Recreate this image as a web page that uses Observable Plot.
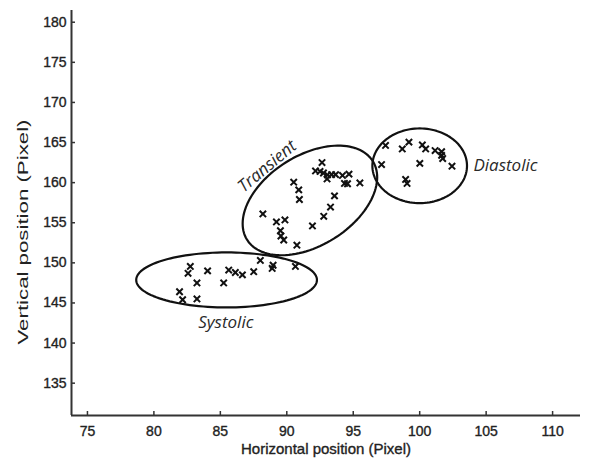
<!DOCTYPE html>
<html>
<head>
<meta charset="utf-8">
<script src="https://cdn.jsdelivr.net/npm/d3@7"></script>
<script src="https://cdn.jsdelivr.net/npm/@observablehq/plot@0.6"></script>
<style>
  html, body { margin: 0; padding: 0; background: #fff; }
  #chart { width: 590px; height: 462px; }
  .heavy text { stroke: #222; stroke-width: 0.35px; }
</style>
</head>
<body>
<div id="chart"></div>
<script>
// ---- data ----
const systolicX = [81.93, 82.16, 82.74, 82.57, 83.24, 83.24, 84.04, 85.25, 85.63, 86.13, 86.66, 87.51, 88.01, 88.97, 88.90, 90.65];
const systolicY = [146.4, 145.4, 149.55, 148.7, 147.5, 145.5, 149.0, 147.5, 149.1, 148.8, 148.5, 148.9, 150.3, 149.7, 149.3, 149.55];

const transientX = [88.20, 89.22, 89.86, 89.52, 89.56, 89.77, 90.76, 90.52, 90.90, 90.95, 91.93, 92.78, 93.29, 93.59, 92.65, 92.16, 92.50, 92.76, 93.06, 93.03, 93.37, 93.67, 94.19, 94.68, 94.34, 94.57, 95.50];
const transientY = [156.1, 155.1, 155.35, 154.0, 153.35, 152.85, 152.2, 160.06, 159.1, 157.9, 154.6, 155.8, 156.95, 158.35, 162.5, 161.46, 161.4, 161.2, 160.96, 160.46, 161.0, 161.0, 160.9, 161.06, 159.9, 159.86, 159.96];

const diastolicX = [97.43, 98.69, 99.19, 100.20, 100.45, 101.16, 101.65, 101.65, 101.73, 102.43, 97.13, 100.01, 98.94, 99.05];
const diastolicY = [164.64, 164.2, 165.05, 164.7, 164.2, 164.0, 163.85, 163.4, 163.0, 162.05, 162.25, 162.4, 160.4, 159.9];

const xTicks = [75, 80, 85, 90, 95, 100, 105, 110];
const yTicks = [135, 140, 145, 150, 155, 160, 165, 170, 175, 180];

// phase annotations: centre (data units), semi-axes (in horizontal-axis units), tilt (deg)
const phaseNames = ["Systolic", "Transient", "Diastolic"];
const ellipseCX = [85.47, 91.74, 100.0];
const ellipseCY = [147.87, 157.78, 162.1];
const ellipseA = [6.8, 5.58, 3.56];
const ellipseB = [2.07, 3.39, 2.81];
const ellipseTilt = [0, 32, 0];

const labelX = [85.41, 88.52, 106.45];
const labelY = [142.6, 162.05, 162.15];
const labelRotate = [0, -40, 0];

// ---- layout ----
const W = 590, H = 462;
const mL = 71, mR = 10, mT = 10, mB = 47;
const xDomain = [73.8, 112.1];
const yDomain = [130.97, 181.46];

const points = [
  ...systolicX.map((x, i) => ({x, y: systolicY[i]})),
  ...transientX.map((x, i) => ({x, y: transientY[i]})),
  ...diastolicX.map((x, i) => ({x, y: diastolicY[i]}))
];

// ellipse outlines expressed in data units, so they go through the plot scales
const kx = (W - mL - mR) / (xDomain[1] - xDomain[0]);
const ky = (H - mT - mB) / (yDomain[1] - yDomain[0]);
const ellipsePts = [];
phaseNames.forEach((name, k) => {
  const phi = ellipseTilt[k] * Math.PI / 180;
  const n = 120;
  for (let i = 0; i < n; i++) {
    const t = 2 * Math.PI * i / n;
    const px = ellipseA[k] * Math.cos(t) * Math.cos(phi) - ellipseB[k] * Math.sin(t) * Math.sin(phi);
    const py = ellipseA[k] * Math.cos(t) * Math.sin(phi) + ellipseB[k] * Math.sin(t) * Math.cos(phi);
    ellipsePts.push({phase: name, x: ellipseCX[k] + px, y: ellipseCY[k] + py * kx / ky});
  }
});

const labels = phaseNames.map((name, k) => ({name, x: labelX[k], y: labelY[k], r: labelRotate[k]}));

const chart = Plot.plot({
  width: W,
  height: H,
  marginLeft: mL,
  marginRight: mR,
  marginTop: mT,
  marginBottom: mB,
  x: {domain: xDomain},
  y: {domain: yDomain},
  style: {fontFamily: "'Liberation Sans', Arial, sans-serif", fontSize: "14px", color: "#222", background: "#fff"},
  marks: [
    // tick labels
    Plot.axisX(xTicks, {tickSize: 0, tickPadding: 11, label: null, fontSize: 14, fill: "#222", className: "heavy"}),
    Plot.axisY(yTicks, {tickSize: 0, tickPadding: 5, label: null, fontSize: 14, fill: "#222", className: "heavy"}),
    // inward ticks
    Plot.axisX(xTicks, {tickSize: 4, dy: -4, tickFormat: () => "", label: null, stroke: "#333", strokeWidth: 1.5}),
    Plot.axisY(yTicks, {tickSize: 4, dx: 4, tickFormat: () => "", label: null, stroke: "#333", strokeWidth: 1.5}),
    // axis lines
    Plot.ruleX([xDomain[0]], {stroke: "#333", strokeWidth: 2}),
    Plot.ruleY([yDomain[0]], {stroke: "#333", strokeWidth: 2}),
    // axis titles
    Plot.text(["Horizontal position (Pixel)"], {frameAnchor: "bottom", textAnchor: "middle", dy: 38, fontSize: 15, fill: "#222", className: "heavy"}),
    Plot.text(["Vertical position (Pixel)"], {frameAnchor: "left", textAnchor: "middle", dx: -48, dy: 19, rotate: -90, fontSize: 15, fill: "#222", className: "ylab"}),
    // ellipses
    Plot.line(ellipsePts, {x: "x", y: "y", z: "phase", curve: "linear-closed", stroke: "#111", strokeWidth: 2.2}),
    // points
    Plot.dot(points, {x: "x", y: "y", symbol: "times", r: 3, stroke: "#111", strokeWidth: 2}),
    // phase labels
    Plot.text(labels, {x: "x", y: "y", text: "name", rotate: "r", fontFamily: "'Open Sans', sans-serif", fontStyle: "italic", fontSize: 17, fill: "#2a2a2a"})
  ]
});

// the reference's vertical title is stretched along its length
d3.select(chart).selectAll(".ylab text")
  .attr("textLength", 225)
  .attr("lengthAdjust", "spacingAndGlyphs");

document.getElementById("chart").appendChild(chart);
</script>
</body>
</html>
